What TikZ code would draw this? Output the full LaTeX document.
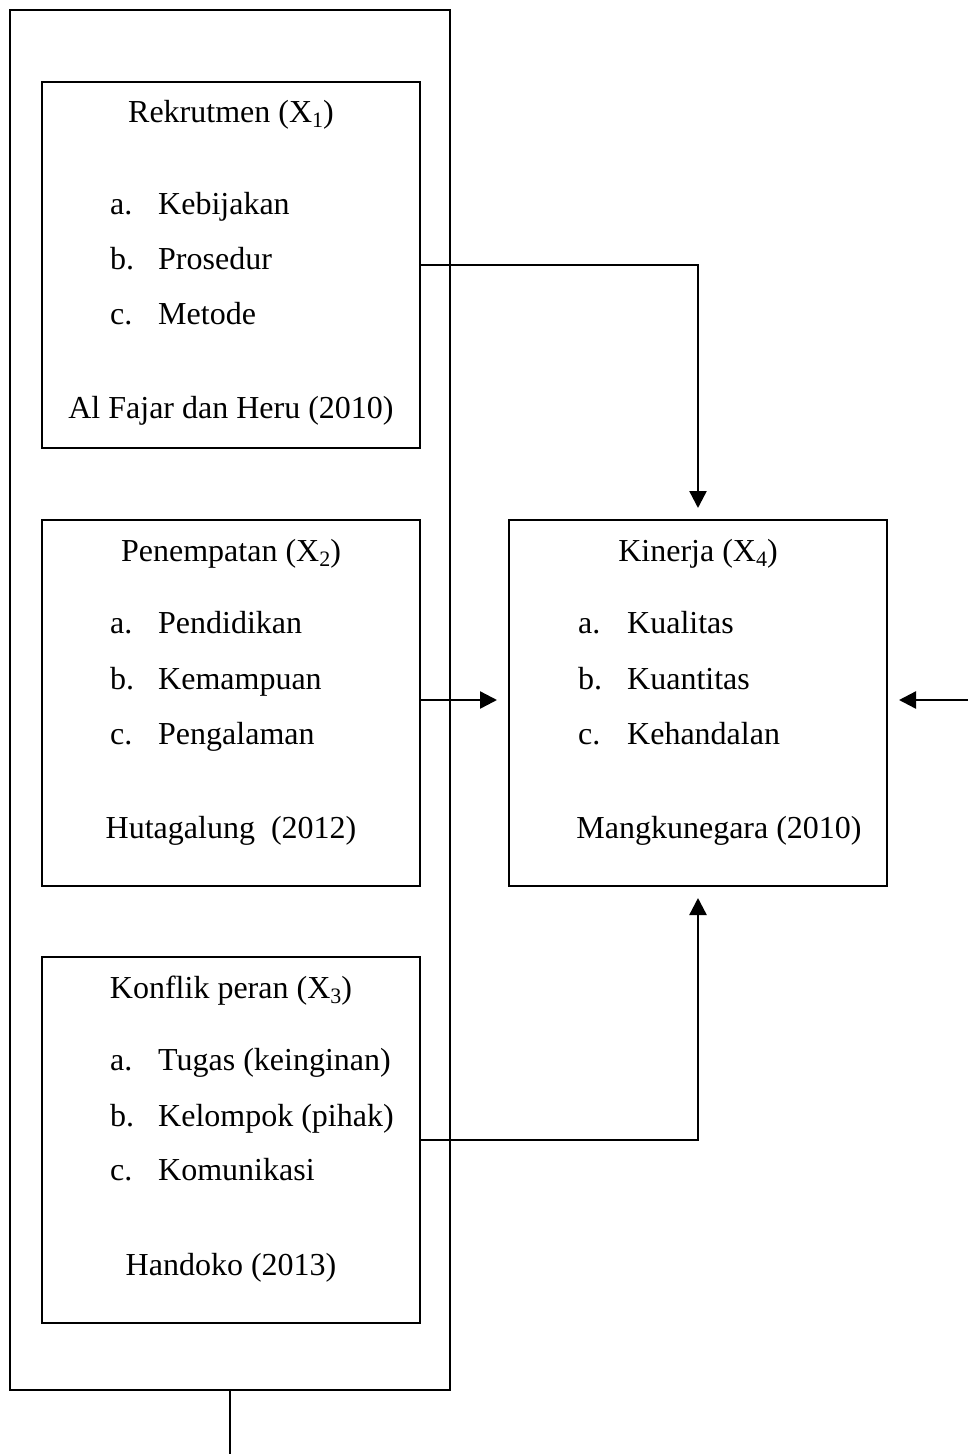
\documentclass[tikz,border=0pt]{standalone}
\usepackage{fontspec}
\setmainfont{Liberation Serif}
\usetikzlibrary{arrows.meta}
\newcommand{\lowidx}[1]{\raisebox{-0.18em}{\fontsize{22}{22}\selectfont #1}}
\begin{document}
\begin{tikzpicture}[x=1pt,y=-1pt,
  box/.style={draw,line width=2pt,minimum width=378pt,minimum height=366pt,inner sep=0pt},
  txt/.style={anchor=base west,inner sep=0pt,font=\fontsize{32}{38}\selectfont},
  ctxt/.style={anchor=base,inner sep=0pt,font=\fontsize{32}{38}\selectfont},
  conn/.style={line width=2.4pt,-{Triangle[length=17pt,width=17pt]}}]
\useasboundingbox (0,0) rectangle (968,1454);
\node[draw,line width=2pt,minimum width=440pt,minimum height=1380pt,inner sep=0pt] (outer) at (230,700) {};
\node[box] (b1) at (231,265) {};
\node[box] (b2) at (231,703) {};
\node[box] (b3) at (231,1140) {};
\node[box] (b4) at (698,703) {};
% box 1
\node[ctxt] (t1) at (231,122) {Rekrutmen (X\lowidx{1})};
\node[txt] (a1) at (110,214) {a.};
\node[txt] (a1t) at (158,214) {Kebijakan};
\node[txt] (b1l) at (110,269) {b.};
\node[txt] (b1t) at (158,269) {Prosedur};
\node[txt] (c1) at (110,324) {c.};
\node[txt] (c1t) at (158,324) {Metode};
\node[ctxt] (r1) at (231,418) {Al Fajar dan Heru (2010)};
% box 2
\node[ctxt] (t2) at (231,561) {Penempatan (X\lowidx{2})};
\node[txt] (a2) at (110,633) {a.};
\node[txt] (a2t) at (158,633) {Pendidikan};
\node[txt] (b2l) at (110,689) {b.};
\node[txt] (b2t) at (158,689) {Kemampuan};
\node[txt] (c2) at (110,744) {c.};
\node[txt] (c2t) at (158,744) {Pengalaman};
\node[ctxt] (r2) at (231,838) {Hutagalung\ \ (2012)};
% box 3
\node[ctxt] (t3) at (231,998) {Konflik peran (X\lowidx{3})};
\node[txt] (a3) at (110,1070) {a.};
\node[txt] (a3t) at (158,1070) {Tugas (keinginan)};
\node[txt] (b3l) at (110,1126) {b.};
\node[txt] (b3t) at (158,1126) {Kelompok (pihak)};
\node[txt] (c3) at (110,1180) {c.};
\node[txt] (c3t) at (158,1180) {Komunikasi};
\node[ctxt] (r3) at (231,1275) {Handoko (2013)};
% box 4
\node[ctxt] (t4) at (698,561) {Kinerja (X\lowidx{4})};
\node[txt] (a4) at (578,633) {a.};
\node[txt] (a4t) at (627,633) {Kualitas};
\node[txt] (b4l) at (578,689) {b.};
\node[txt] (b4t) at (627,689) {Kuantitas};
\node[txt] (c4) at (578,744) {c.};
\node[txt] (c4t) at (627,744) {Kehandalan};
\node[ctxt] (r4) at (719,838) {Mangkunegara (2010)};
% connectors
\coordinate (rightend) at (968,700);
\coordinate (bottomend) at (230,1454);
\draw[conn,shorten >=11pt] (b1.east) -| (b4.north);
\draw[conn,shorten >=11pt] (b2.east |- rightend) -- (b4.west |- rightend);
\draw[conn,shorten >=11pt] (b3.east) -| (b4.south);
\draw[conn,shorten >=11pt] (rightend) -- (b4.east |- rightend);
\draw[line width=2.4pt] (outer.south -| bottomend) -- (bottomend);
\end{tikzpicture}
\end{document}
